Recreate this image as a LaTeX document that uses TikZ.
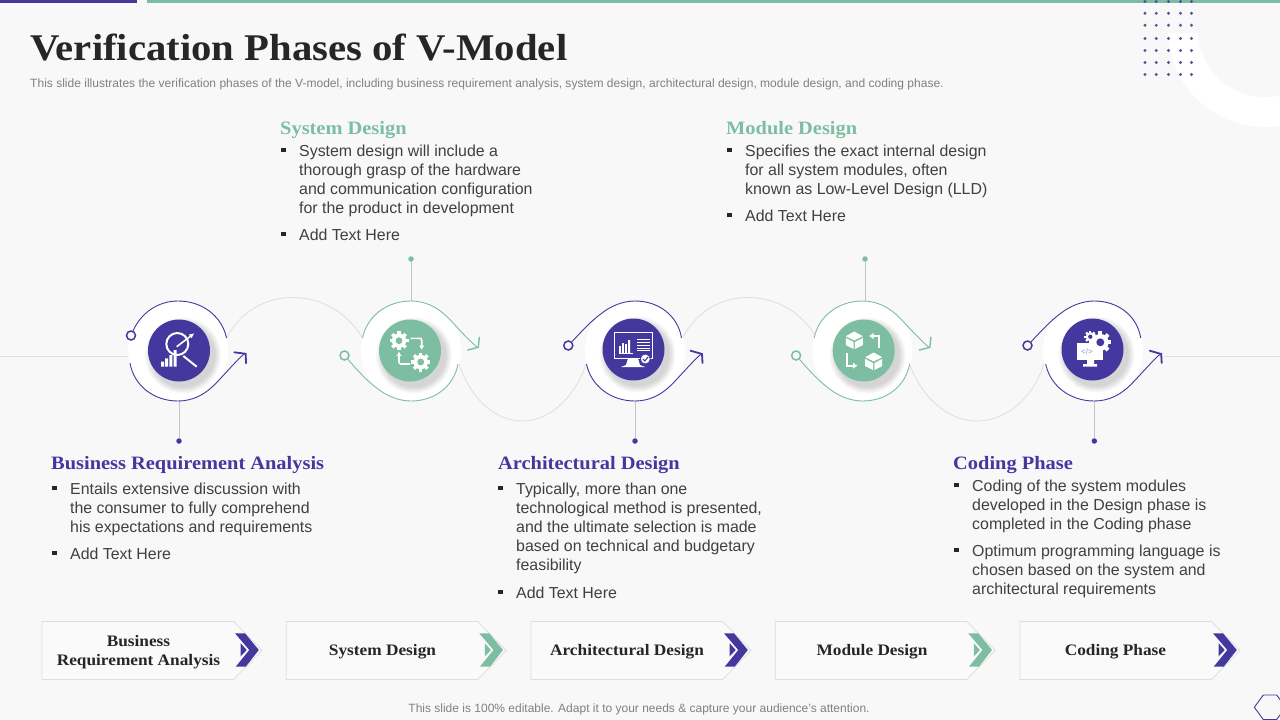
\documentclass[tikz,border=0pt]{standalone}
\usepackage{fontspec}
\setmainfont{Liberation Sans}
\newfontfamily\headfont[FakeStretch=1.08]{Liberation Serif}
\usetikzlibrary{arrows.meta}
\definecolor{bgc}{HTML}{F8F8F9}
\definecolor{vio}{HTML}{44389E}
\definecolor{mint}{HTML}{7DBEA2}
\definecolor{ink}{HTML}{404040}
\definecolor{dark}{HTML}{262626}
\definecolor{wave}{HTML}{DEDEDE}
\definecolor{stem}{HTML}{C4C4CC}
\tikzset{
  x=1pt,y=-1pt,
  disc/.style={circle,fill=white,minimum size=100pt,inner sep=0pt},
  badge/.style={circle,fill=#1,minimum size=62pt,inner sep=0pt},
  ringmark/.style={circle,draw=#1,line width=1.5pt,fill=bgc,minimum size=9pt,inner sep=0pt},
  tipdot/.style={circle,fill=#1,minimum size=5.5pt,inner sep=0pt},
  waveline/.style={wave,line width=.8pt},
  stemline/.style={stem,line width=.9pt},
  orbit/.style={#1,line width=.9pt},
  head/.style={#1,line width=1.8pt,line cap=round,line join=miter},
  bodytext/.style={font=\fontsize{15.9}{19}\selectfont,text=ink,align=left,inner sep=0pt,anchor=north west},
  headtext/.style={font=\headfont\bfseries\fontsize{18.9}{22}\selectfont,text=#1,inner sep=0pt,anchor=base west},
  boxlabel/.style={font=\headfont\bfseries\fontsize{16}{19}\selectfont,text=dark,align=center,inner sep=0pt},
  bulletmark/.style={rectangle,fill=dark,minimum size=4.6pt,inner sep=0pt},
  icon/.style={white,line width=1.6pt},
}
% shadow under a badge
\newcommand\badgeshadow[2]{\foreach \r in {38,37,36,35,34,33,32}{\fill[black,opacity=.022] (#1+4,#2+5) circle[radius=\r pt];}}
% gear: x y radius holecolour
\newcommand\cog[4]{%
  \foreach \a in {0,45,...,315}{\draw[white,line width=#3*0.36pt] ([shift={(#1,#2)}]\a:#3*0.55pt) -- ([shift={(#1,#2)}]\a:#3*1pt);}
  \fill[white] (#1,#2) circle[radius=#3*0.76pt];
  \fill[#4] (#1,#2) circle[radius=#3*0.36pt];}
% cube
\newcommand\cube[3]{%
  \fill[white] (#1-#3,#2-.45*#3) -- (#1,#2-#3) -- (#1+#3,#2-.45*#3) -- (#1,#2+.05*#3) -- cycle;
  \fill[white] (#1-#3,#2-.25*#3) -- (#1-.08*#3,#2+.25*#3) -- (#1-.08*#3,#2+1.05*#3) -- (#1-#3,#2+.6*#3) -- cycle;
  \fill[white] (#1+#3,#2-.25*#3) -- (#1+.08*#3,#2+.25*#3) -- (#1+.08*#3,#2+1.05*#3) -- (#1+#3,#2+.6*#3) -- cycle;}
% bottom chevron box
\newcommand\chevbox[2]{%
  \begin{scope}[shift={(#1,0)}]
    \draw[fill=white,fill opacity=.35,draw=wave,line width=.8pt] (42,621.5) -- (233.5,621.5) -- (262,650.5) -- (233.5,679.5) -- (42,679.5) -- cycle;
    \fill[#2] (235,633.3) -- (245,633.3) -- (258.8,650) -- (245.7,666.7) -- (235.7,666.7) -- (249.3,650) -- cycle;
    \fill[#2] (240.7,643.3) -- (246.7,650) -- (240.7,656.3) -- cycle;
  \end{scope}}
\begin{document}
\begin{tikzpicture}
\useasboundingbox (0,0) rectangle (1280,720);
\clip (0,0) rectangle (1280,720);
\fill[bgc] (0,0) rectangle (1280,720);
% decoration top right
\begin{scope}
  \clip (1160,33) rectangle (1280,140);
  \fill[white,even odd rule] (1265,30) circle[radius=97pt] (1265,30) circle[radius=67pt];
\end{scope}
\fill[vio] (0,0) rectangle (137,3);
\fill[mint] (147,0) rectangle (1280,3);
\foreach \x in {1145,1156.3,1168.5,1180.5,1191.5}{\foreach \y in {1.5,13.3,25.3,38.5,50.5,62.5,74.5}{\fill[vio!70!gray] (\x,\y) circle[radius=1.6pt];}}
\draw[vio,line width=.9pt] (1254.3,707.3) -- (1263.3,695) -- (1276.7,695) -- (1285.7,707.3) -- (1276.7,719.5) -- (1263.3,719.5) -- cycle;
% title
\node[font=\headfont\bfseries\fontsize{37.7}{42}\selectfont,text=dark,inner sep=0pt,anchor=base west] (title) at (30,60) {Verification Phases of V-Model};
\node[font=\fontsize{12.04}{14}\selectfont,text=gray,inner sep=0pt,anchor=base west] (sub) at (30,87) {This slide illustrates the verification phases of the V-model, including business requirement analysis, system design, architectural design, module design, and coding phase.};
\node[font=\fontsize{12}{14}\selectfont,text=gray,inner sep=0pt] (foot) at (639,709.5) {This slide is 100\% editable. Adapt it to your needs \& capture your audience’s attention.};
% wave anchors
\coordinate (w0a) at (0,356);      \coordinate (w0b) at (129,356);
\coordinate (w1a) at (226.5,338);  \coordinate (w1b) at (362.5,338);
\coordinate (w2a) at (459,364);    \coordinate (w2b) at (586,364);
\coordinate (w3a) at (682.5,338);  \coordinate (w3b) at (816.5,338);
\coordinate (w4a) at (909.5,364);  \coordinate (w4b) at (1044,364);
\coordinate (w5a) at (1164,356);   \coordinate (w5b) at (1280,356);
\draw[waveline] (w0a) -- (w0b);
\draw[waveline] (w5a) -- (w5b);
\draw[waveline] (w1a) .. controls (240,312) and (265,297.5) .. (293,297.5) .. controls (321,297.5) and (347,312) .. (w1b);
\draw[waveline] (w3a) .. controls (696,312) and (720,297.5) .. (748,297.5) .. controls (776,297.5) and (802,312) .. (w3b);
\draw[waveline] (w2a) .. controls (470,398) and (495,421) .. (522,421) .. controls (549,421) and (575,398) .. (w2b);
\draw[waveline] (w4a) .. controls (922,398) and (948,421) .. (977,421) .. controls (1006,421) and (1033,398) .. (w4b);
% discs and badges
\node[disc] (d1) at (178,351) {};
\node[disc] (d2) at (411,351) {};
\node[disc] (d3) at (635,351) {};
\node[disc] (d4) at (862.5,351) {};
\node[disc] (d5) at (1093,351) {};
\badgeshadow{179}{350.5}\badgeshadow{410}{350.5}\badgeshadow{633.5}{349.5}\badgeshadow{863.7}{350.5}\badgeshadow{1092.5}{349.5}
\node[badge=vio] (b1) at (179,350.5) {};
\node[badge=mint] (b2) at (410,350.5) {};
\node[badge=vio] (b3) at (633.5,349.5) {};
\node[badge=mint] (b4) at (863.7,350.5) {};
\node[badge=vio] (b5) at (1092.5,349.5) {};
% stems
\node[tipdot=vio] (s1) at (179,441) {};
\node[tipdot=mint] (s2) at (411,259) {};
\node[tipdot=vio] (s3) at (635,441) {};
\node[tipdot=mint] (s4) at (865,259) {};
\node[tipdot=vio] (s5) at (1094.3,441) {};
\draw[stemline] (d1.south -| s1) -- (s1);
\draw[stemline] (d2.north -| s2) -- (s2);
\draw[stemline] (d3.south -| s3) -- (s3);
\draw[stemline] (d4.north -| s4) -- (s4);
\draw[stemline] (d5.south -| s5) -- (s5);
% orbit 1
\begin{scope}[shift={(178,351)}]
  \node[ringmark=vio] (r1) at (-47,-15.5) {};
  \draw[orbit=vio] (r1) .. controls (-37,-38) and (-20,-50) .. (0,-50) .. controls (24,-50) and (44,-35) .. (48.5,-13);
  \draw[orbit=vio] (-48,12) .. controls (-44,35) and (-24,50) .. (0,50) .. controls (14,50) and (25,44) .. (33,37) .. controls (42,29) and (53,15) .. (66,3);
  \draw[head=vio] (56.3,1.3) -- (67.7,2.8) -- (68,12.3);
\end{scope}
% orbits 3 and 5
\foreach \cx/\n in {635/3,1094.2/5}{
\begin{scope}[shift={(\cx,351)}]
  \node[ringmark=vio] (r\n) at (-66.7,-5.5) {};
  \draw[orbit=vio] (r\n) .. controls (-52,-21) and (-44,-30) .. (-33,-38) .. controls (-24,-45) and (-12,-50) .. (0,-50) .. controls (24,-50) and (43,-35) .. (46.5,-13);
  \draw[orbit=vio] (-48.5,13) .. controls (-44,35) and (-24,50) .. (0,50) .. controls (14,50) and (25,44) .. (33,37) .. controls (42,29) and (53,15) .. (66,3);
  \draw[head=vio] (55.5,-.3) -- (67,3) -- (67.5,12);
\end{scope}}
% orbits 2 and 4
\foreach \cx/\n in {411/2,862.6/4}{
\begin{scope}[shift={(\cx,351)}]
  \node[ringmark=mint] (r\n) at (-66.5,4.5) {};
  \draw[orbit=mint] (-48.5,-13) .. controls (-44,-35) and (-24,-50) .. (0,-50) .. controls (14,-50) and (25,-44) .. (33,-37) .. controls (42,-29) and (53,-15) .. (66,-4);
  \draw[orbit=mint] (r\n) .. controls (-52,21) and (-44,30) .. (-33,38) .. controls (-24,45) and (-12,50) .. (0,50) .. controls (24,50) and (43,35) .. (47,13);
  \draw[head=mint,line width=1.4pt] (56.7,-1) -- (67.3,-3.7) -- (68.3,-13.7);
\end{scope}}
% icon 1
\draw[icon,line width=2pt] (177.3,344) circle[radius=11pt];
\draw[icon,line width=2pt] (183.3,356) -- (196.7,366.7);
\draw[icon,line width=1.6pt,-{Latex[length=5pt,width=5pt]}] (176.7,346.7) -- (194.3,333.3);
\fill[white] (161,361.7) rectangle (164,366.7) (165.2,358.3) rectangle (168.2,366.7) (169.4,355) rectangle (172.4,366.7) (173.6,350) rectangle (176.6,366.7);
% icon 2
\cog{399}{340.7}{9.5}{mint}
\cog{420.7}{362}{9.5}{mint}
\draw[icon,rounded corners=2pt,-{Latex[length=4.5pt,width=5.5pt]}] (410.7,338.3) -- (421.7,338.3) -- (421.7,350);
\draw[icon,rounded corners=2pt,-{Latex[length=4.5pt,width=5.5pt]}] (410,364) -- (399,364) -- (399,351.5);
% icon 3
\draw[icon,line width=1.3pt] (614.3,332.7) rectangle (652.7,358.3);
\fill[white] (628,358.5) -- (638,358.5) -- (640,365) -- (645,367) -- (621,367) -- (626,365) -- cycle;
\fill[white] (618.5,353) rectangle (633,354);
\fill[white] (619,346) rectangle (620.8,353) (622,343) rectangle (623.8,353) (625,344) rectangle (626.8,353) (628,340) rectangle (630,353);
\foreach \y in {338.5,341.5,344.5,347.5,350}{\fill[white] (637,\y) rectangle (649.5,\y+.9);}
\node[circle,fill=white,draw=vio,line width=.8pt,minimum size=10pt,inner sep=0pt] (chk) at (645.3,359) {};
\draw[vio,line width=1.1pt] (642.8,359) -- (644.8,361) -- (648,357);
% icon 4
\cube{854.3}{340}{8.5}
\cube{873.7}{361}{8.5}
\draw[icon,line width=1.8pt,-{Latex[length=4.5pt,width=6.5pt]}] (879,347.7) -- (879,336) -- (869,336);
\draw[icon,line width=1.8pt,-{Latex[length=4.5pt,width=6.5pt]}] (846.7,352.7) -- (846.7,365.7) -- (857.5,365.7);
% icon 5
\fill[white] (1076.7,342.7) rectangle (1102.7,360);
\node[font=\fontsize{8}{9}\selectfont,text=vio!55!white,inner sep=0pt] (code) at (1087,352) {</>};
\fill[white] (1087,360) rectangle (1094,364) (1083,364) rectangle (1097,366.5);
\cog{1100.3}{342.3}{11}{vio}
\cog{1090.3}{336.7}{6}{vio}
% headings and bullets
\node[headtext=mint] (h2) at (280,134) {System Design};
\node[headtext=mint] (h4) at (726,134) {Module Design};
\node[headtext=vio] (h1) at (51,469) {Business Requirement Analysis};
\node[headtext=vio] (h3) at (498,469) {Architectural Design};
\node[headtext=vio] (h5) at (953,469) {Coding Phase};
% System Design
\node[bulletmark] (p21) at (283.5,150) {};
\node[bodytext] (t21) at (299,142.5) {\strut System design will include a\\thorough grasp of the hardware\\and communication configuration\\for the product in development};
\node[bulletmark] (p22) at (283.5,234) {};
\node[bodytext] (t22) at (299,226.5) {\strut Add Text Here};
% Module Design
\node[bulletmark] (p41) at (729.5,150) {};
\node[bodytext] (t41) at (745,142.5) {\strut Specifies the exact internal design\\for all system modules, often\\known as Low-Level Design (LLD)};
\node[bulletmark] (p42) at (729.5,215) {};
\node[bodytext] (t42) at (745,207.5) {\strut Add Text Here};
% Business
\node[bulletmark] (p11) at (54.5,488) {};
\node[bodytext] (t11) at (70,480.5) {\strut Entails extensive discussion with\\the consumer to fully comprehend\\his expectations and requirements};
\node[bulletmark] (p12) at (54.5,553) {};
\node[bodytext] (t12) at (70,545.5) {\strut Add Text Here};
% Architectural
\node[bulletmark] (p31) at (500.5,488) {};
\node[bodytext] (t31) at (516,480.5) {\strut Typically, more than one\\technological method is presented,\\and the ultimate selection is made\\based on technical and budgetary\\feasibility};
\node[bulletmark] (p32) at (500.5,592) {};
\node[bodytext] (t32) at (516,584.5) {\strut Add Text Here};
% Coding
\node[bulletmark] (p51) at (956.5,485) {};
\node[bodytext] (t51) at (972,477.5) {\strut Coding of the system modules\\developed in the Design phase is\\completed in the Coding phase};
\node[bulletmark] (p52) at (956.5,550) {};
\node[bodytext] (t52) at (972,542.5) {\strut Optimum programming language is\\chosen based on the system and\\architectural requirements};
% bottom boxes
\chevbox{0}{vio}\chevbox{244.2}{mint}\chevbox{489}{vio}\chevbox{733.2}{mint}\chevbox{978}{vio}
\node[boxlabel] (l1) at (138.5,652) {Business\\Requirement Analysis};
\node[boxlabel] (l2) at (382.5,652) {System Design};
\node[boxlabel] (l3) at (627,652) {Architectural Design};
\node[boxlabel] (l4) at (872,652) {Module Design};
\node[boxlabel] (l5) at (1115.5,652) {Coding Phase};
\end{tikzpicture}
\end{document}
